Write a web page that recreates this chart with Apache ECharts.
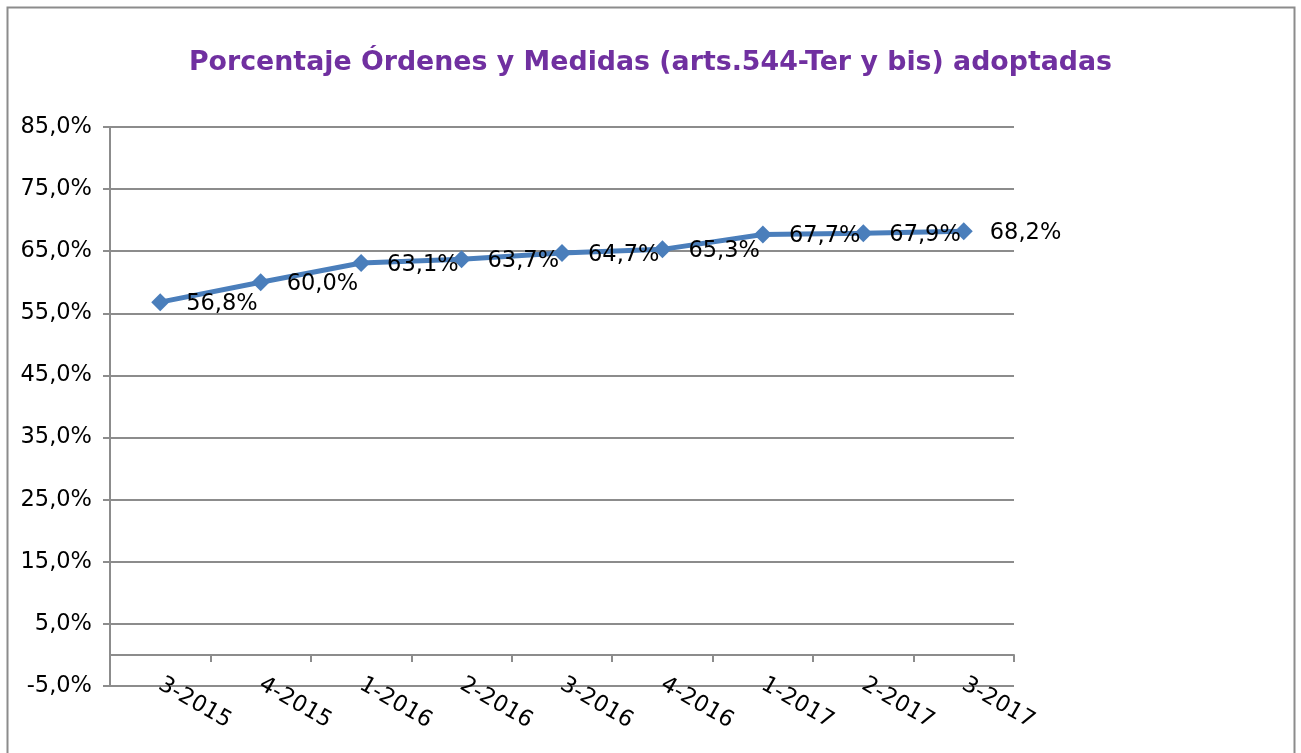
<!DOCTYPE html>
<html>
<head>
<meta charset="utf-8">
<script src="https://cdn.jsdelivr.net/npm/echarts@6/dist/echarts.min.js"></script>
<style>
html,body{margin:0;padding:0;background:#fff;}
#c{width:1301px;height:753px;}
</style>
</head>
<body>
<div id="c"></div>
<script>
const titleText = 'Porcentaje Órdenes y Medidas (arts.544-Ter y bis) adoptadas';
const categories = ['3-2015','4-2015','1-2016','2-2016','3-2016','4-2016','1-2017','2-2017','3-2017'];
const values = [56.8, 60.0, 63.1, 63.7, 64.7, 65.3, 67.7, 67.9, 68.2];
const yMin = -5, yMax = 85, yStep = 10;

function pct(v){ return v.toFixed(1).replace('.', ',') + '%'; }

const chart = echarts.init(document.getElementById('c'), null, {renderer:'canvas'});
const FONT = 'DejaVu Sans';
chart.setOption({
  animation:false,
  backgroundColor:'#ffffff',
  title:{
    text:titleText,
    left:'center', top:45,
    textStyle:{color:'#7030A0', fontFamily:FONT, fontWeight:'bold', fontSize:26.8}
  },
  graphic:[{
    type:'rect', silent:true,
    shape:{x:7.5,y:7.5,width:1287,height:800},
    style:{fill:'none', stroke:'#8c8c8c', lineWidth:2}
  }],
  grid:{left:110, right:287, top:127, bottom:67, outerBoundsMode:'none', containLabel:false},
  xAxis:{
    type:'category',
    data:categories,
    boundaryGap:true,
    axisLine:{onZero:true, lineStyle:{color:'#8c8c8c', width:2}},
    axisTick:{show:true, length:7, inside:false, alignWithLabel:false, lineStyle:{color:'#8c8c8c', width:2}},
    axisLabel:{rotate:-30, margin:-3, color:'#000', fontFamily:FONT, fontSize:22.5, interval:0},
    splitLine:{show:false}
  },
  yAxis:{
    type:'value',
    min:yMin, max:yMax, interval:yStep,
    axisLine:{show:true, lineStyle:{color:'#8c8c8c', width:2}},
    axisTick:{show:true, length:7, lineStyle:{color:'#8c8c8c', width:2}},
    axisLabel:{formatter:function(v){return pct(v);}, color:'#000', fontFamily:FONT, fontSize:22.5, margin:18, padding:[4,0,0,0]},
    splitLine:{show:true, lineStyle:{color:'#8c8c8c', width:2}}
  },
  series:[{
    type:'line',
    data:values,
    symbol:'diamond',
    symbolSize:18,
    itemStyle:{color:'#4A7EBB'},
    lineStyle:{color:'#4A7EBB', width:5},
    label:{
      show:true, position:'right', distance:17, offset:[0,2],
      formatter:function(p){return pct(p.value);},
      color:'#000', fontFamily:FONT, fontSize:22.5
    },
    z:3
  }]
});
</script>
</body>
</html>
